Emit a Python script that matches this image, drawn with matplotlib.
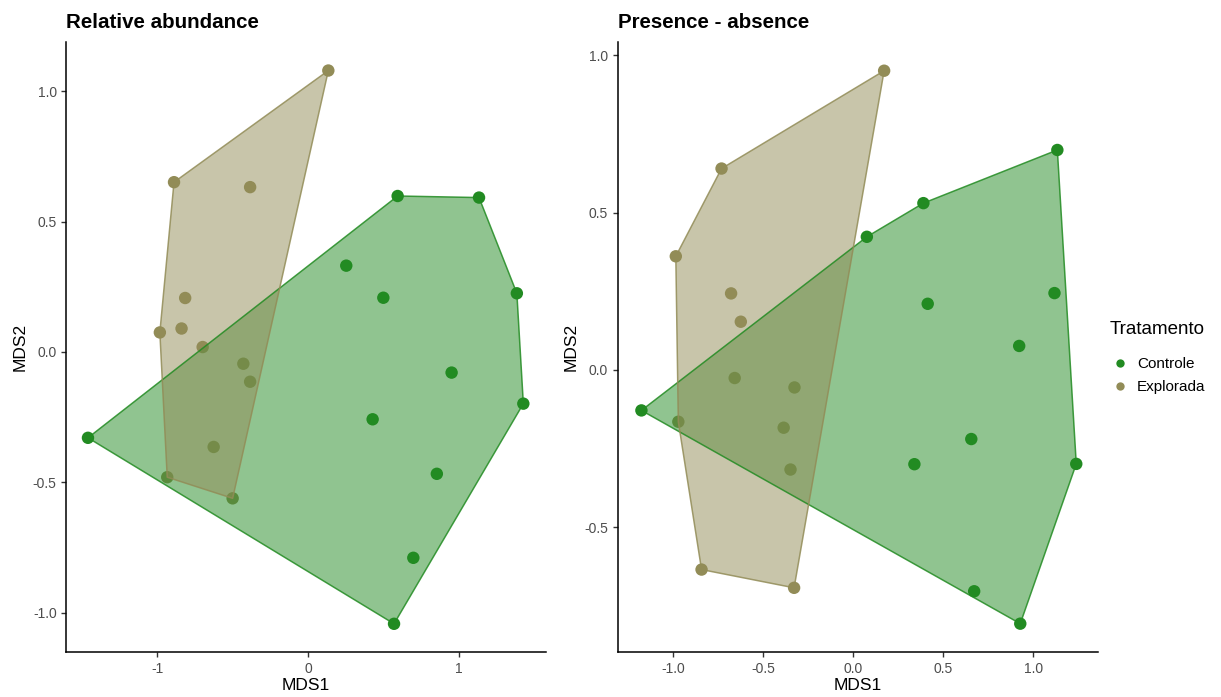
import numpy as np
import matplotlib.pyplot as plt
from matplotlib.lines import Line2D

plt.rcParams['font.family'] = ['Liberation Sans', 'DejaVu Sans']

# ---- data ----
# Relative abundance
ra_ctrl_x = [0.595, 1.135, 0.254, 0.500, 1.386, 0.953, 1.429, 0.429, -1.460, 0.855, 0.699, 0.571]
ra_ctrl_y = [0.598, 0.592, 0.331, 0.208, 0.225, -0.079, -0.198, -0.258, -0.329, -0.467, -0.789, -1.042]
ra_expl_x = [0.135, -0.889, -0.384, -0.815, -0.983, -0.839, -0.699, -0.429, -0.384, -0.626, -0.934, -0.500]
ra_expl_y = [1.079, 0.651, 0.632, 0.207, 0.075, 0.090, 0.019, -0.045, -0.114, -0.364, -0.480, -0.561]

# Presence - absence
pa_ctrl_x = [1.133, 0.389, 0.075, 1.117, 0.413, 0.921, -1.177, 0.655, 0.339, 1.238, 0.671, 0.927]
pa_ctrl_y = [0.699, 0.530, 0.423, 0.244, 0.210, 0.076, -0.129, -0.220, -0.300, -0.299, -0.704, -0.807]
pa_expl_x = [0.171, -0.732, -0.986, -0.679, -0.625, -0.659, -0.327, -0.972, -0.387, -0.349, -0.843, -0.329]
pa_expl_y = [0.951, 0.640, 0.361, 0.243, 0.153, -0.026, -0.056, -0.165, -0.184, -0.317, -0.635, -0.693]

groups = ['Controle', 'Explorada']
colors = {'Controle': '#228B22', 'Explorada': '#928C57'}


def convex_hull(xs, ys):
    pts = sorted(set(zip(xs, ys)))

    def cross(o, a, b):
        return (a[0] - o[0]) * (b[1] - o[1]) - (a[1] - o[1]) * (b[0] - o[0])

    lower, upper = [], []
    for p in pts:
        while len(lower) >= 2 and cross(lower[-2], lower[-1], p) <= 0:
            lower.pop()
        lower.append(p)
    for p in reversed(pts):
        while len(upper) >= 2 and cross(upper[-2], upper[-1], p) <= 0:
            upper.pop()
        upper.append(p)
    return np.array(lower[:-1] + upper[:-1])


def panel(ax, data, title, xlim, ylim, xticks, xticklabels, yticks, yticklabels):
    # points first, hulls on top (as in the original)
    for g in groups:
        x, y = data[g]
        ax.scatter(x, y, s=80, color=colors[g], edgecolor='none', zorder=2)
    for g in groups:
        x, y = data[g]
        hull = convex_hull(x, y)
        ax.fill(hull[:, 0], hull[:, 1], facecolor=colors[g], alpha=0.5,
                edgecolor='none', zorder=3)
        closed = np.vstack([hull, hull[:1]])
        ax.plot(closed[:, 0], closed[:, 1], color=colors[g], linewidth=1.1,
                alpha=0.85, zorder=4)
    ax.set_xlim(*xlim)
    ax.set_ylim(*ylim)
    ax.set_xticks(xticks)
    ax.set_xticklabels(xticklabels)
    ax.set_yticks(yticks)
    ax.set_yticklabels(yticklabels)
    for s in ['top', 'right']:
        ax.spines[s].set_visible(False)
    for s in ['left', 'bottom']:
        ax.spines[s].set_linewidth(1.1)
    ax.tick_params(labelsize=10, colors='#333333', length=3.5, width=1)
    ax.tick_params(labelcolor='#4D4D4D')
    ax.set_xlabel('MDS1', fontsize=12.5, labelpad=2)
    ax.set_ylabel('MDS2', fontsize=12.5, labelpad=4)
    ax.set_title(title, loc='left', fontsize=14.8, fontweight='bold', pad=10)


fig = plt.figure(figsize=(12.21, 6.97), dpi=100)
ax1 = fig.add_axes([0.0544, 0.0646, 0.3926, 0.875])
ax2 = fig.add_axes([0.506, 0.0646, 0.3936, 0.875])

panel(ax1, {'Controle': (ra_ctrl_x, ra_ctrl_y), 'Explorada': (ra_expl_x, ra_expl_y)},
      'Relative abundance', (-1.603, 1.578), (-1.15, 1.188),
      [-1, 0, 1], ['-1', '0', '1'],
      [-1.0, -0.5, 0.0, 0.5, 1.0], ['-1.0', '-0.5', '0.0', '0.5', '1.0'])

panel(ax2, {'Controle': (pa_ctrl_x, pa_ctrl_y), 'Explorada': (pa_expl_x, pa_expl_y)},
      'Presence - absence', (-1.308, 1.361), (-0.897, 1.042),
      [-1.0, -0.5, 0.0, 0.5, 1.0], ['-1.0', '-0.5', '0.0', '0.5', '1.0'],
      [-0.5, 0.0, 0.5, 1.0], ['-0.5', '0.0', '0.5', '1.0'])

handles = [Line2D([], [], marker='o', linestyle='none', markersize=6,
                  markerfacecolor=colors[g], markeredgecolor='none') for g in groups]
leg = fig.legend(handles, groups, title='Tratamento', loc='upper left',
                 bbox_to_anchor=(1099 / 1221, 1 - 310 / 697), frameon=False,
                 fontsize=11, title_fontsize=13.5, handletextpad=0.5,
                 labelspacing=0.6, handlelength=1.3, borderaxespad=0.3)
leg._legend_box.align = 'left'
leg._legend_box.sep = 14

fig.savefig('out.png', dpi=100)
